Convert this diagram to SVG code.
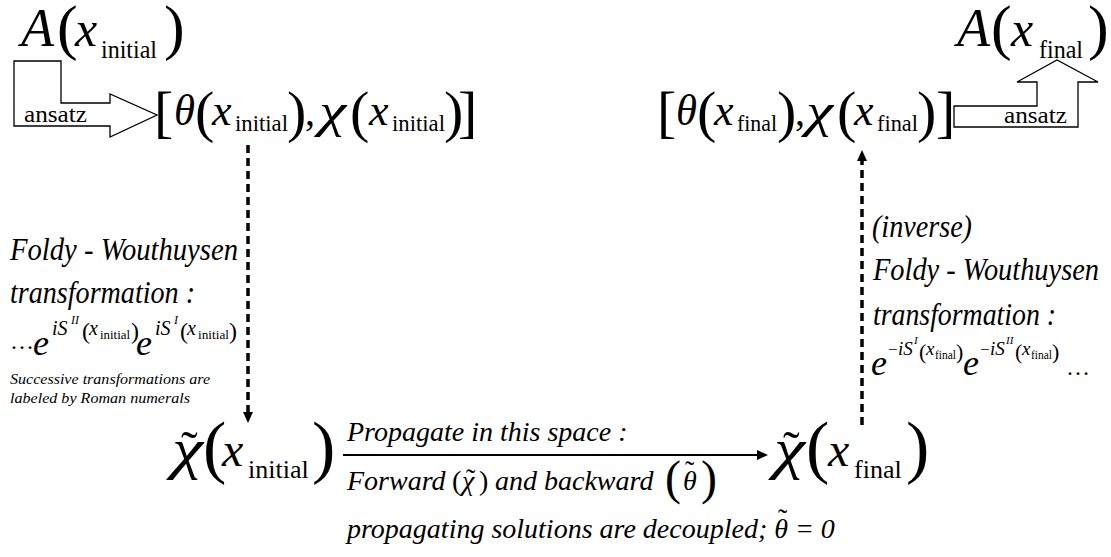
<svg xmlns="http://www.w3.org/2000/svg" width="1111" height="557" viewBox="0 0 1111 557">
<style>
text{font-family:"Liberation Serif","Times New Roman",serif;fill:#000}
.i{font-style:italic}
.hollow{fill:#fff;stroke:#000;stroke-width:1.3}
.dash{fill:none;stroke:#000;stroke-width:3.5;stroke-dasharray:8 5}
.solid{fill:none;stroke:#000;stroke-width:2.2}
</style>
<defs>
<marker id="ah" markerWidth="12" markerHeight="10" refX="0" refY="5" orient="auto" markerUnits="userSpaceOnUse"><path d="M0,0 L11,5 L0,10 z" fill="#000"/></marker>
</defs>
<rect width="1111" height="557" fill="#fff"/>

<g id="connectors">
<polygon class="hollow" points="14,61 61,61 61,103 110,103 110,94 157,115 110,137 110,126 14,126"/>
<text x="24" y="122" font-size="24" textLength="63" lengthAdjust="spacingAndGlyphs">ansatz</text>
<polygon class="hollow" points="954,106 1037,106 1037,82 1017,82 1057,60 1098,82 1078,82 1078,127 954,127"/>
<text x="1004" y="123" font-size="24" textLength="63" lengthAdjust="spacingAndGlyphs">ansatz</text>
<line class="dash" x1="248" y1="145" x2="248" y2="412" marker-end="url(#ah)"/>
<line class="dash" x1="862" y1="425" x2="862" y2="161" marker-end="url(#ah)"/>
<line class="solid" x1="343" y1="455" x2="757" y2="455" marker-end="url(#ah)"/>
</g>

<g id="A-initial">
<text class="i" x="21" y="46" font-size="54">A</text>
<text x="57" y="48" font-size="62">(</text>
<text class="i" x="75" y="46" font-size="50">x</text>
<text x="101" y="58" font-size="25" textLength="56" lengthAdjust="spacingAndGlyphs">initial</text>
<text x="164" y="48" font-size="62">)</text>
</g>

<g id="A-final">
<text class="i" x="957" y="46" font-size="54">A</text>
<text x="991" y="48" font-size="62">(</text>
<text class="i" x="1011" y="46" font-size="50">x</text>
<text x="1039" y="58" font-size="25" textLength="44" lengthAdjust="spacingAndGlyphs">final</text>
<text x="1088" y="48" font-size="62">)</text>
</g>

<g id="theta-chi-initial">
<text x="154" y="131" font-size="58">[</text>
<text class="i" x="174" y="125" font-size="44" textLength="21" lengthAdjust="spacingAndGlyphs">θ</text>
<text x="195" y="131" font-size="58">(</text>
<text class="i" x="212" y="125" font-size="44">x</text>
<text x="235" y="131" font-size="23" textLength="53" lengthAdjust="spacingAndGlyphs">initial</text>
<text x="287" y="131" font-size="58">)</text>
<text x="305" y="125" font-size="40">,</text>
<text class="i" x="319" y="127" font-size="48" textLength="27" lengthAdjust="spacingAndGlyphs">χ</text>
<text x="350" y="131" font-size="58">(</text>
<text class="i" x="369" y="125" font-size="44">x</text>
<text x="392" y="131" font-size="23" textLength="53" lengthAdjust="spacingAndGlyphs">initial</text>
<text x="444" y="131" font-size="58">)</text>
<text x="458" y="131" font-size="58">]</text>
</g>

<g id="theta-chi-final">
<text x="657" y="131" font-size="58">[</text>
<text class="i" x="676" y="125" font-size="44" textLength="21" lengthAdjust="spacingAndGlyphs">θ</text>
<text x="697" y="131" font-size="58">(</text>
<text class="i" x="714" y="125" font-size="44">x</text>
<text x="737" y="131" font-size="23" textLength="40" lengthAdjust="spacingAndGlyphs">final</text>
<text x="777" y="131" font-size="58">)</text>
<text x="795" y="125" font-size="40">,</text>
<text class="i" x="806" y="127" font-size="48" textLength="27" lengthAdjust="spacingAndGlyphs">χ</text>
<text x="837" y="131" font-size="58">(</text>
<text class="i" x="854" y="125" font-size="44">x</text>
<text x="877" y="131" font-size="23" textLength="41" lengthAdjust="spacingAndGlyphs">final</text>
<text x="917" y="131" font-size="58">)</text>
<text x="936" y="131" font-size="58">]</text>
</g>

<g id="chi-tilde-initial">
<text class="i" x="172" y="468" font-size="56" textLength="31" lengthAdjust="spacingAndGlyphs">χ</text>
<text x="181" y="466" font-size="50">˜</text>
<text x="203" y="470" font-size="70">(</text>
<text class="i" x="222" y="466" font-size="48">x</text>
<text x="248" y="478" font-size="26">initial</text>
<text x="312" y="470" font-size="70">)</text>
</g>

<g id="chi-tilde-final">
<text class="i" x="774" y="468" font-size="56" textLength="31" lengthAdjust="spacingAndGlyphs">χ</text>
<text x="783" y="466" font-size="50">˜</text>
<text x="806" y="470" font-size="70">(</text>
<text class="i" x="828" y="466" font-size="48">x</text>
<text x="854" y="478" font-size="26">final</text>
<text x="906" y="470" font-size="70">)</text>
</g>

<g id="fw-label">
<text class="i" x="10" y="260" font-size="31" textLength="228" lengthAdjust="spacingAndGlyphs">Foldy - Wouthuysen</text>
<text class="i" x="10" y="303" font-size="31" textLength="185" lengthAdjust="spacingAndGlyphs">transformation :</text>
<text x="10" y="349" font-size="24">…</text>
<text class="i" x="33" y="355" font-size="36">e</text>
<text class="i" x="52" y="335" font-size="20">iS</text>
<text class="i" x="71" y="324" font-size="12">II</text>
<text x="82" y="339" font-size="24">(</text>
<text class="i" x="89" y="335" font-size="20">x</text>
<text x="100" y="339" font-size="13" textLength="30" lengthAdjust="spacingAndGlyphs">initial</text>
<text x="131" y="339" font-size="24">)</text>
<text class="i" x="136" y="355" font-size="36">e</text>
<text class="i" x="155" y="335" font-size="20">iS</text>
<text class="i" x="174" y="324" font-size="12">I</text>
<text x="180" y="339" font-size="24">(</text>
<text class="i" x="187" y="335" font-size="20">x</text>
<text x="198" y="339" font-size="13" textLength="31" lengthAdjust="spacingAndGlyphs">initial</text>
<text x="229" y="339" font-size="24">)</text>
<text class="i" x="10" y="384" font-size="15" textLength="200" lengthAdjust="spacingAndGlyphs">Successive transformations are</text>
<text class="i" x="10" y="403" font-size="15" textLength="180" lengthAdjust="spacingAndGlyphs">labeled by Roman numerals</text>
</g>

<g id="inverse-fw-label">
<text class="i" x="872" y="237" font-size="31" textLength="100" lengthAdjust="spacingAndGlyphs">(inverse)</text>
<text class="i" x="873" y="280" font-size="31" textLength="226" lengthAdjust="spacingAndGlyphs">Foldy - Wouthuysen</text>
<text class="i" x="873" y="325" font-size="31" textLength="183" lengthAdjust="spacingAndGlyphs">transformation :</text>
<text class="i" x="871" y="375" font-size="36">e</text>
<text x="888" y="355" font-size="17">−</text>
<text class="i" x="898" y="355" font-size="19">iS</text>
<text class="i" x="914" y="344" font-size="11">I</text>
<text x="919" y="359" font-size="22">(</text>
<text class="i" x="926" y="355" font-size="19">x</text>
<text x="935" y="359" font-size="13" textLength="21" lengthAdjust="spacingAndGlyphs">final</text>
<text x="956" y="359" font-size="22">)</text>
<text class="i" x="963" y="375" font-size="36">e</text>
<text x="980" y="355" font-size="17">−</text>
<text class="i" x="990" y="355" font-size="19">iS</text>
<text class="i" x="1006" y="344" font-size="11">II</text>
<text x="1015" y="359" font-size="22">(</text>
<text class="i" x="1022" y="355" font-size="19">x</text>
<text x="1031" y="359" font-size="13" textLength="21" lengthAdjust="spacingAndGlyphs">final</text>
<text x="1052" y="359" font-size="22">)</text>
<text x="1066" y="375" font-size="24">…</text>
</g>

<g id="propagate-label">
<text class="i" x="347" y="441" font-size="28">Propagate in this space :</text>
<text class="i" x="347" y="490" font-size="28">Forward</text>
<text x="452" y="490" font-size="28">(</text>
<text class="i" x="462" y="490" font-size="28">χ</text>
<text x="466" y="488" font-size="28">˜</text>
<text x="479" y="490" font-size="28">)</text>
<text class="i" x="495" y="490" font-size="28">and backward</text>
<text x="665" y="494" font-size="48">(</text>
<text class="i" x="683" y="490" font-size="28">θ</text>
<text x="685" y="480" font-size="28">˜</text>
<text x="701" y="494" font-size="48">)</text>
<text class="i" x="347" y="538" font-size="28">propagating solutions are decoupled; θ = 0</text>
<text x="778" y="528" font-size="28">˜</text>
</g>
</svg>
